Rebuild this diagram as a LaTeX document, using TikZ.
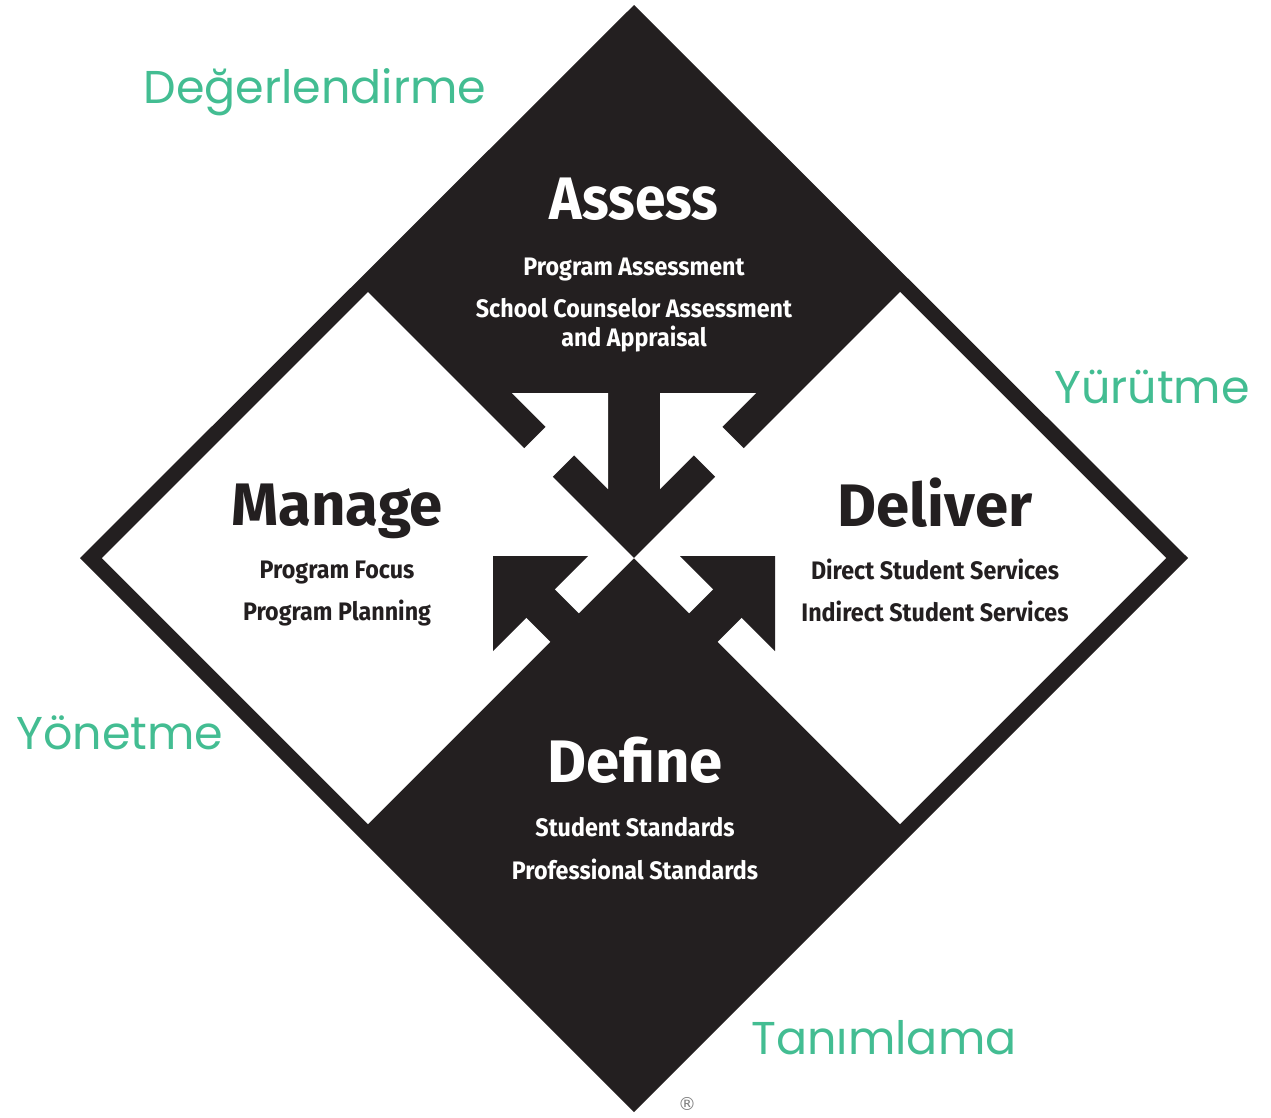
\documentclass[tikz,border=0pt]{standalone}
\usepackage{fontspec}
\usepackage{tikz}
\usetikzlibrary{arrows.meta}
\newfontfamily\ascafont[FakeStretch=0.92]{Fira Sans}
\newfontfamily\ascawide{Fira Sans}
\newfontfamily\trfont{Poppins}
\newfontfamily\regfont{DejaVu Sans}
\definecolor{asblack}{RGB}{35,31,32}
\definecolor{asgreen}{RGB}{67,189,146}

\begin{document}
\begin{tikzpicture}[x=1pt,y=-1pt,
	head/.style={font=\ascawide\bfseries\fontsize{60}{60}\selectfont, anchor=base, inner sep=0pt},
	item/.style={font=\ascafont\bfseries\fontsize{25.3}{25.3}\selectfont, anchor=base, inner sep=0pt},
	trlabel/.style={font=\trfont\fontsize{46}{46}\selectfont, text=asgreen, anchor=base, inner sep=0pt}]
\useasboundingbox (0,0) rectangle (1271,1117);
\fill[asblack] (634,5) -- (1188,558) -- (634,1112) -- (80,558) -- cycle;
\fill[white] (368,292) -- (634,558) -- (368,824) -- (102,558) -- cycle;
\fill[white] (900,292) -- (1166,558) -- (900,824) -- (634,558) -- cycle;
% arrows in the middle, left half and its mirror
\foreach \s in {1,-1} {
	\begin{scope}[shift={(634,0)}, xscale=\s]
	\fill[white] (-122,393) -- (-26,393) -- (-26,489) -- cycle;
	\draw[white, line width=40pt] (-64,431) -- (-104,471);
	\fill[asblack] (-141,556) -- (-46,556) -- (-141,651) -- cycle;
	\draw[asblack, line width=40pt] (-100,597) -- (-58,639);
	\end{scope}
}
\draw (634,219) node[head, font=\ascafont\bfseries\fontsize{60}{60}\selectfont, text=white] (assess) {Assess};
\foreach \y/\t/\n in {275/Program Assessment/as1, 317/School Counselor Assessment/as2, 346/and Appraisal/as3}
	\draw (634,\y) node[item, text=white] (\n) {\t};
\draw (337,525) node[head, text=asblack] (manage) {Manage};
\foreach \y/\t/\n in {578/Program Focus/ma1, 620/Program Planning/ma2}
	\draw (337,\y) node[item, text=asblack] (\n) {\t};
\draw (935,526) node[head, text=asblack] (deliver) {Deliver};
\foreach \y/\t/\n in {579/Direct Student Services/de1, 621/Indirect Student Services/de2}
	\draw (935,\y) node[item, text=asblack] (\n) {\t};
\draw (635,782) node[head, text=white] (define) {Define};
\foreach \y/\t/\n in {836/Student Standards/df1, 879/Professional Standards/df2}
	\draw (635,\y) node[item, text=white] (\n) {\t};
\draw (315,103) node[trlabel] (deger) {Değerlendirme};
\draw (1152,403) node[trlabel] (yurut) {Yürütme};
\draw (120,749) node[trlabel] (yonet) {Yönetme};
\draw (884,1054) node[trlabel] (tanim) {Tanımlama};
\draw (687,1110) node[font=\regfont\fontsize{18}{18}\selectfont, text=gray, anchor=base, inner sep=0pt] (reg) {®};
\end{tikzpicture}
\end{document}
